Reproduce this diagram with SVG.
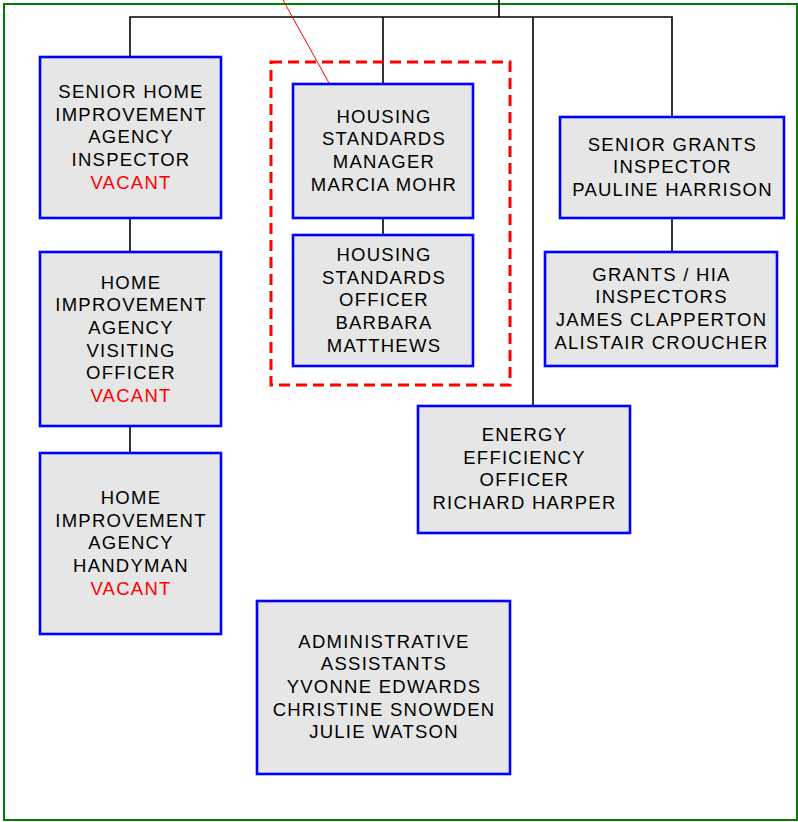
<svg xmlns="http://www.w3.org/2000/svg" width="798" height="822" viewBox="0 0 798 822">
  <style>
    .frame { fill: none; stroke: #008000; stroke-width: 2; }
    .box { fill: #e6e6e6; stroke: #0000ff; stroke-width: 2.6; }
    .group { fill: none; stroke: #ff0000; stroke-width: 3; stroke-dasharray: 11 6; }
    .link { fill: none; stroke: #000000; stroke-width: 1.6; }
    .pointer { fill: none; stroke: #ff0000; stroke-width: 1; }
    text { font-family: "Liberation Sans", Arial, sans-serif; font-size: 18.5px; letter-spacing: 1.25px; text-anchor: middle; fill: #000000; }
    .vacant { fill: #ff0000; }
  </style>

  <!-- outer frame -->
  <rect class="frame" x="4" y="4" width="793" height="816"/>

  <!-- connectors -->
  <g id="connectors">
    <path class="link" d="M499,0 V17"/>
    <path class="link" d="M130,57 V17 H672 V117"/>
    <path class="link" d="M383,17 V84"/>
    <path class="link" d="M533,17 V406 H523"/>
    <path class="link" d="M130,218 V252"/>
    <path class="link" d="M130,426 V453"/>
    <path class="link" d="M383,218 V235"/>
    <path class="link" d="M672,218 V252 H661"/>
    <path class="pointer" d="M283,0 L329,83"/>
  </g>

  <!-- dashed grouping round the housing standards team -->
  <rect class="group" x="271" y="62" width="239" height="323"/>

  <g id="senior-hia-inspector">
    <rect class="box" x="40" y="57" width="181" height="161"/>
    <text x="131" y="98">SENIOR HOME</text>
    <text x="131" y="120.7">IMPROVEMENT</text>
    <text x="131" y="143.4">AGENCY</text>
    <text x="131" y="166.1">INSPECTOR</text>
    <text class="vacant" x="131" y="188.8">VACANT</text>
  </g>

  <g id="hia-visiting-officer">
    <rect class="box" x="40" y="252" width="181" height="174"/>
    <text x="131" y="288.5">HOME</text>
    <text x="131" y="311.2">IMPROVEMENT</text>
    <text x="131" y="333.9">AGENCY</text>
    <text x="131" y="356.6">VISITING</text>
    <text x="131" y="379.3">OFFICER</text>
    <text class="vacant" x="131" y="402">VACANT</text>
  </g>

  <g id="hia-handyman">
    <rect class="box" x="40" y="453" width="181" height="181"/>
    <text x="131" y="503.8">HOME</text>
    <text x="131" y="526.5">IMPROVEMENT</text>
    <text x="131" y="549.2">AGENCY</text>
    <text x="131" y="571.9">HANDYMAN</text>
    <text class="vacant" x="131" y="594.6">VACANT</text>
  </g>

  <g id="housing-standards-manager">
    <rect class="box" x="293" y="84" width="180" height="134"/>
    <text x="384" y="122.7">HOUSING</text>
    <text x="384" y="145.4">STANDARDS</text>
    <text x="384" y="168.1">MANAGER</text>
    <text x="384" y="190.8">MARCIA MOHR</text>
  </g>

  <g id="housing-standards-officer">
    <rect class="box" x="293" y="235" width="180" height="131"/>
    <text x="384" y="261">HOUSING</text>
    <text x="384" y="283.7">STANDARDS</text>
    <text x="384" y="306.4">OFFICER</text>
    <text x="384" y="329.1">BARBARA</text>
    <text x="384" y="351.8">MATTHEWS</text>
  </g>

  <g id="senior-grants-inspector">
    <rect class="box" x="560" y="117" width="224" height="101"/>
    <text x="672.5" y="150.5">SENIOR GRANTS</text>
    <text x="672.5" y="173.2">INSPECTOR</text>
    <text x="672.5" y="195.9">PAULINE HARRISON</text>
  </g>

  <g id="grants-hia-inspectors">
    <rect class="box" x="545" y="252" width="232" height="114"/>
    <text x="661.5" y="280.5">GRANTS / HIA</text>
    <text x="661.5" y="303.2">INSPECTORS</text>
    <text x="661.5" y="325.9">JAMES CLAPPERTON</text>
    <text x="661.5" y="348.6">ALISTAIR CROUCHER</text>
  </g>

  <g id="energy-efficiency-officer">
    <rect class="box" x="418" y="406" width="212" height="127"/>
    <text x="524.5" y="441">ENERGY</text>
    <text x="524.5" y="463.7">EFFICIENCY</text>
    <text x="524.5" y="486.4">OFFICER</text>
    <text x="524.5" y="509.1">RICHARD HARPER</text>
  </g>

  <g id="administrative-assistants">
    <rect class="box" x="257" y="601" width="253" height="173"/>
    <text x="384" y="647.5">ADMINISTRATIVE</text>
    <text x="384" y="670.2">ASSISTANTS</text>
    <text x="384" y="692.9">YVONNE EDWARDS</text>
    <text x="384" y="715.6">CHRISTINE SNOWDEN</text>
    <text x="384" y="738.3">JULIE WATSON</text>
  </g>
</svg>
